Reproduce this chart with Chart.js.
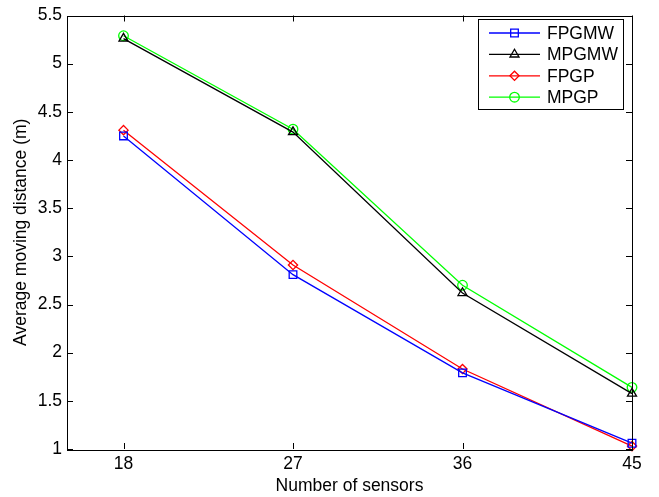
<!DOCTYPE html>
<html>
<head>
<meta charset="utf-8">
<script src="https://cdn.jsdelivr.net/npm/chart.js@4/dist/chart.umd.min.js"></script>
<style>
  html, body { margin: 0; padding: 0; background: #fff; }
  #wrap { width: 659px; height: 497px; }
</style>
</head>
<body>
<div id="wrap"><canvas id="c" width="659" height="497"></canvas></div>
<script>
// Number of sensors on the x axis
const sensors = [18, 27, 36, 45];
const xTicks = [18, 27, 36, 45];

// Average moving distance (m) for each method
const fpgmw = [4.25, 2.81, 1.79, 1.06];
const mpgmw = [5.26, 4.29, 2.62, 1.575];
const fpgp  = [4.31, 2.91, 1.83, 1.03];
const mpgp  = [5.29, 4.32, 2.70, 1.64];

const seriesNames = ['FPGMW', 'MPGMW', 'FPGP', 'MPGP'];
const FONT = '"Liberation Sans", Arial, Helvetica, sans-serif';
const FSIZE = 17.5;

function pts(vals) { return sensors.map((s, i) => ({ x: s, y: vals[i] })); }

function series(label, vals, color, style, radius) {
  return {
    label, data: pts(vals),
    borderColor: color, backgroundColor: 'rgba(0,0,0,0)',
    borderWidth: 1.3, pointStyle: style, pointRadius: radius,
    pointBorderColor: color, pointBackgroundColor: 'rgba(0,0,0,0)',
    pointBorderWidth: 1.3, tension: 0, clip: false
  };
}

// marker glyphs for the legend, same shapes as the data points
function marker(ctx, style, x, y, r) {
  ctx.beginPath();
  if (style === 'rect') {
    const s = Math.SQRT1_2 * r;
    ctx.rect(x - s, y - s, 2 * s, 2 * s);
  } else if (style === 'triangle') {
    for (let k = 0; k < 3; k++) {
      const a = k * 2 * Math.PI / 3;
      const px = x + Math.sin(a) * r, py = y - Math.cos(a) * r;
      k ? ctx.lineTo(px, py) : ctx.moveTo(px, py);
    }
    ctx.closePath();
  } else if (style === 'rectRot') {
    ctx.moveTo(x - r, y); ctx.lineTo(x, y - r); ctx.lineTo(x + r, y); ctx.lineTo(x, y + r);
    ctx.closePath();
  } else {
    ctx.arc(x, y, r, 0, Math.PI * 2);
  }
  ctx.stroke();
}

// box, inward tick marks on all four sides, and the boxed legend
const framePlugin = {
  id: 'frame',
  afterDatasetsDraw(chart) {
    const { ctx, chartArea: a, scales } = chart;
    ctx.save();
    ctx.strokeStyle = '#000';
    ctx.lineWidth = 1;
    ctx.strokeRect(Math.round(a.left) + 0.5, Math.round(a.top) + 0.5,
                   Math.round(a.right - a.left), Math.round(a.bottom - a.top));
    const tl = 6;
    ctx.beginPath();
    scales.x.ticks.forEach(t => {
      const px = Math.round(scales.x.getPixelForValue(t.value)) + 0.5;
      ctx.moveTo(px, a.bottom); ctx.lineTo(px, a.bottom - tl);
      ctx.moveTo(px, a.top); ctx.lineTo(px, a.top + tl);
    });
    scales.y.ticks.forEach(t => {
      const py = Math.round(scales.y.getPixelForValue(t.value)) + 0.5;
      ctx.moveTo(a.left, py); ctx.lineTo(a.left + tl, py);
      ctx.moveTo(a.right, py); ctx.lineTo(a.right - tl, py);
    });
    ctx.stroke();

    // legend
    const bx = 478, by = 19, bw = 145, bh = 90;
    ctx.fillStyle = '#fff';
    ctx.fillRect(bx, by, bw, bh);
    ctx.strokeStyle = '#000';
    ctx.lineWidth = 1;
    ctx.strokeRect(bx + 0.5, by + 0.5, bw, bh);
    ctx.font = FSIZE + 'px ' + FONT;
    ctx.textBaseline = 'middle';
    ctx.textAlign = 'left';
    chart.data.datasets.forEach((ds, i) => {
      const y = 33 + i * 21.4;
      ctx.strokeStyle = ds.borderColor;
      ctx.lineWidth = 1.3;
      ctx.beginPath();
      ctx.moveTo(489, y); ctx.lineTo(540, y);
      ctx.stroke();
      marker(ctx, ds.pointStyle, 514.5, y, ds.pointRadius);
      ctx.fillStyle = '#000';
      ctx.fillText(ds.label, 547, y + 1);
    });
    ctx.restore();
  }
};

new Chart(document.getElementById('c'), {
  type: 'line',
  data: {
    datasets: [
      series(seriesNames[0], fpgmw, '#0000ff', 'rect', 5.4),
      series(seriesNames[1], mpgmw, '#000000', 'triangle', 5.2),
      series(seriesNames[2], fpgp, '#ff0000', 'rectRot', 4.6),
      series(seriesNames[3], mpgp, '#00ff00', 'circle', 4.8)
    ]
  },
  options: {
    responsive: false,
    animation: false,
    layout: { padding: { top: 11, right: 27, left: 0, bottom: 0 } },
    plugins: { legend: { display: false }, tooltip: { enabled: false } },
    scales: {
      x: {
        type: 'linear', min: 15, max: 45,
        afterBuildTicks(s) { s.ticks = xTicks.map(v => ({ value: v })); },
        afterFit(s) { s.height = 48; },
        grid: { display: false, drawTicks: false }, border: { display: false },
        ticks: { color: '#000', font: { family: FONT, size: FSIZE }, padding: 5, maxRotation: 0 },
        title: { display: true, text: 'Number of sensors', color: '#000',
                 font: { family: FONT, size: FSIZE }, padding: { top: 0, bottom: 0 } }
      },
      y: {
        type: 'linear', min: 1, max: 5.5,
        ticks: { stepSize: 0.5, color: '#000', font: { family: FONT, size: FSIZE }, padding: 5,
                 callback: v => String(v) },
        afterFit(s) { s.width = 67; },
        grid: { display: false, drawTicks: false }, border: { display: false },
        title: { display: true, text: 'Average moving distance (m)', color: '#000',
                 font: { family: FONT, size: FSIZE }, padding: { top: 11, bottom: 0 } }
      }
    }
  },
  plugins: [framePlugin]
});
</script>
</body>
</html>
